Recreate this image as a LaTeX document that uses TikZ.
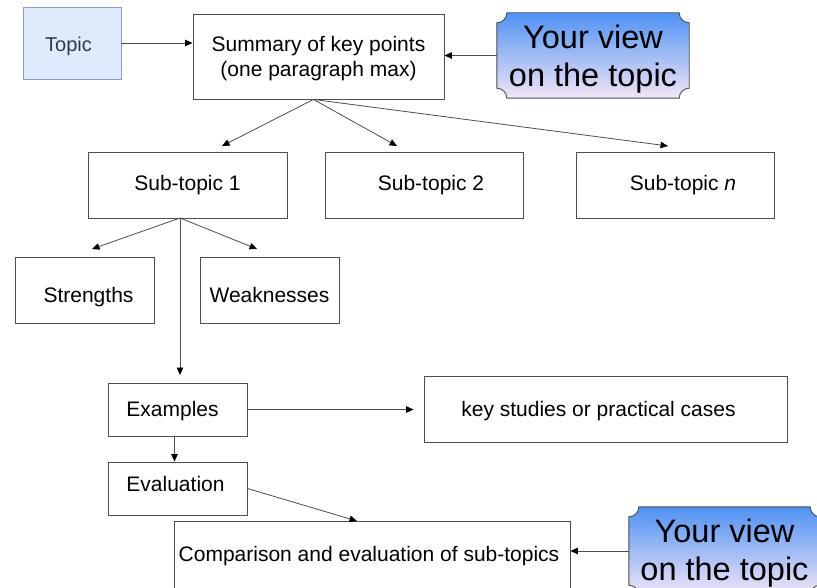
\documentclass[tikz,border=0pt]{standalone}
\usepackage{fontspec}
\setmainfont{Liberation Sans}
\usetikzlibrary{arrows.meta,calc,backgrounds}

\definecolor{linegray}{RGB}{77,77,77}
\definecolor{topicfill}{RGB}{221,235,252}
\definecolor{topicline}{RGB}{140,155,203}
\definecolor{topictext}{RGB}{47,59,76}
\definecolor{viewtop}{RGB}{78,146,244}
\definecolor{viewmid}{RGB}{140,195,255}
\definecolor{viewbot}{RGB}{242,230,245}

\tikzset{
  box/.style = {draw=linegray, line width=0.9pt, rectangle, align=center,
                font=\fontsize{21}{25}\selectfont, inner sep=2pt},
  topicbox/.style = {box, fill=topicfill, draw=topicline, text=topictext,
                font=\fontsize{20}{24}\selectfont},
  viewbox/.style = {rectangle, align=center, inner sep=2pt,
                font=\fontsize{32.5}{38}\selectfont},
  plaque/.style = {draw=linegray, line width=0.9pt, top color=viewtop,
                middle color=viewmid, bottom color=viewbot},
  link/.style = {draw=linegray, line width=0.8pt,
                -{Triangle[length=7.5pt,width=6.5pt,color=black]}}
}

% text set at a given height in its frame (baseline raised by #1 pt)
\newcommand\boxtext[2]{\smash{\raisebox{#1pt}{#2}}}
\newcommand\twolines[3]{\smash{\raisebox{#1pt}{\begin{tabular}[t]{@{}c@{}}#2\\#3\end{tabular}}}}

% concave-cornered frame round a view node
\newcommand\viewplaque[1]{%
  \begin{scope}[on background layer]
    \path[plaque] ($(#1.north west)+(10pt,0)$) -- ($(#1.north east)+(-10pt,0)$)
      arc[start angle=180, end angle=270, radius=10pt]
      -- ($(#1.south east)+(0,10pt)$)
      arc[start angle=90, end angle=180, radius=10pt]
      -- ($(#1.south west)+(10pt,0)$)
      arc[start angle=0, end angle=90, radius=10pt]
      -- ($(#1.north west)+(0,-10pt)$)
      arc[start angle=270, end angle=360, radius=10pt] -- cycle;
  \end{scope}}

\begin{document}
\begin{tikzpicture}[x=1pt, y=-1pt]
    \useasboundingbox (0,0) rectangle (817,588);

    % Top row
    \node[topicbox, minimum width=98pt, minimum height=72pt] (topic) at (72,43)
        {\boxtext{-8.5}{Topic\hspace{7pt}}};
    \node[box, minimum width=251pt, minimum height=85pt] (summary) at (318.5,56.5)
        {\twolines{5}{Summary of key points}{(one paragraph max)}};
    \node[viewbox, minimum width=192pt, minimum height=85pt] (view1) at (593,55.5)
        {\twolines{6.5}{Your view}{on the topic}};
    \viewplaque{view1}

    % Sub-topics
    \node[box, minimum width=199pt, minimum height=66pt] (sub1) at (187.5,185)
        {\boxtext{-5.5}{Sub-topic 1}};
    \node[box, minimum width=198pt, minimum height=66pt] (sub2) at (424,185)
        {\boxtext{-5.5}{\hspace{14pt}Sub-topic 2}};
    \node[box, minimum width=198pt, minimum height=66pt] (subn) at (675,185)
        {\boxtext{-5.5}{\hspace{16pt}Sub-topic \textit{n}}};

    \node[box, minimum width=139pt, minimum height=66pt] (strengths) at (84.5,290)
        {\boxtext{-12.5}{\hspace{8pt}Strengths}};
    \node[box, minimum width=139pt, minimum height=66pt] (weak) at (269.5,290)
        {\boxtext{-12.5}{Weaknesses}};

    % Lower part
    \node[box, minimum width=139pt, minimum height=53pt] (examples) at (177.5,409.5)
        {\boxtext{-7}{Examples\hspace{10pt}}};
    \node[box, minimum width=363pt, minimum height=66pt] (cases) at (605.5,409)
        {\boxtext{-7.5}{key studies or practical cases\hspace{14pt}}};
    \node[box, minimum width=139pt, minimum height=53pt] (eval) at (177.5,488.5)
        {\boxtext{-3}{Evaluation\hspace{4pt}}};
    \node[box, minimum width=396pt, minimum height=67pt] (comp) at (372,554.5)
        {\boxtext{-7}{Comparison and evaluation of sub-topics\hspace{6pt}}};
    \node[viewbox, minimum width=191pt, minimum height=88pt] (view2) at (724.5,551)
        {\twolines{8.5}{Your view}{on the topic}};
    \viewplaque{view2}

    % Arrow ends
    \coordinate (tip1) at (222,146);
    \coordinate (tip2) at (397,146);
    \coordinate (tipn) at (668,146);
    \coordinate (fork) at (180,218);
    \coordinate (tips) at (92,249);
    \coordinate (tipw) at (257,249);
    \coordinate (tipe) at (180,375);
    \coordinate (tipc) at (357,521);

    % Edges
    \draw[link] (topic.east) -- (topic.east -| summary.west);
    \draw[link] (view1.west) -- (view1.west -| summary.east);
    \foreach \t in {tip1,tip2,tipn} \draw[link] ([xshift=-5pt]summary.south) -- (\t);
    \foreach \t in {tips,tipw,tipe} \draw[link] (fork) -- (\t);
    \draw[link, shorten >=10pt] (examples.east) -- (examples.east -| cases.west);
    \draw[link] ([xshift=-3pt]examples.south) -- ([xshift=-3pt]eval.north);
    \draw[link] (eval.east) -- (tipc);
    \draw[link] (view2.west) -- (view2.west -| comp.east);
\end{tikzpicture}
\end{document}
